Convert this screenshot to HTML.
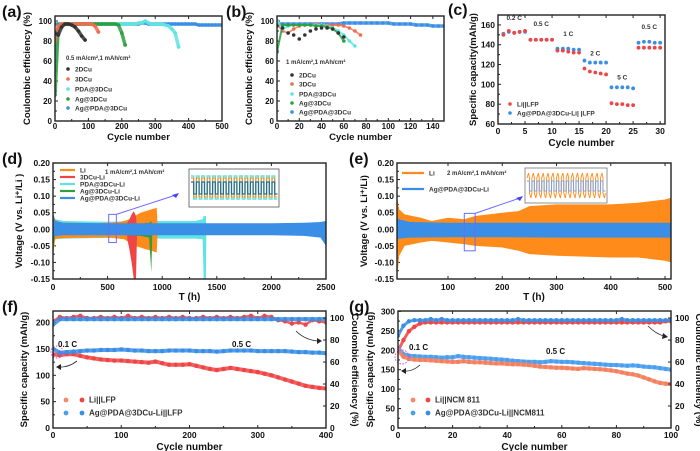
<!DOCTYPE html>
<html><head><meta charset="utf-8">
<style>
html,body{margin:0;padding:0;background:#fff;}
svg{display:block;font-family:"Liberation Sans",sans-serif;font-weight:bold;}
</style></head>
<body>
<svg id="fig" width="700" height="451" viewBox="0 0 700 451" xmlns="http://www.w3.org/2000/svg"></svg>
<script>
// ---------- data ----------
// (a) Coulombic efficiency, 0.5 mA/cm2; cycles step 10
const aStep = 10;
const a2DCu = [88,86,94,97,97,96,94,90,85,81];
const a3DCu = [80,95,97,97,97,97,97,97,97,97,97,97,95,89];
const aPDA = [52,96,97,97,97,97,97,97,97,97,97,97,97,97,97,97,97,97,97,97,97,97,97,97,97,98,98,100,98,97,97,97,97,96,95,92,88,74];
const aAg3D = [26,96,97,97,97,97,97,97,97,97,97,97,97,97,97,97,97,97,97,96,88,76];
const aAgPDA = [97,97,97,97,97,97,97,97,97,97,97,97,97,97,97,97,97,97,97,97,97,97,97,97,97,97,98,98,97,97,97,97,97,97,97,97,97,97,97,97,97,97,97,96,96,96,96,96,96,96,96];
// (b) 1 mA/cm2; cycles step 5
const bStep = 5;
const b2DCu = [95,93,88,86,82,86,90,92,93,93,92,88,84];
const b3DCu = [97,90,88,92,95,96,96,97,96,96,96,96,95,93,90,86];
const bPDA = [101,92,95,96,96,96,96,96,96,95,93,90,86,80,75];
const bAg3D = [69,96,96,96,96,96,96,95,95,94,92,88,80];
const bAgPDA = [97,97,97,97,97,97,97,97,97,97,97,97,98,98,98,98,98,98,98,98,98,97,97,97,97,96,96,96,95,95,95];
// (c) rate capability
const cCycles = [1,2,3,4,5,6,7,8,9,10,11,12,13,14,15,16,17,18,19,20,21,22,23,24,25,26,27,28,29,30];
const cLi = [150,154,152,153,154,145,145,145,145,145,134,134,133,132,132,116,113,112,111,110,81,80,80,79,79,137,137,137,137,137];
const cAg = [151,153,152,153,153,145,145,145,145,145,136,136,136,135,135,124,122,122,122,122,97,97,97,97,96,142,143,143,142,142];
const cRateLabels = ["0.2 C","0.5 C","1 C","2 C","5 C","0.5 C"];
const cRateX = [3,8,13,18,23,28];
const cRateY = [165,159,149,129,105,156];
// (d) voltage envelopes
const dLiT = [0,20,50,100,200,300,400,500,600,650,700,750,800,850,900,950,960];
const dLiUp = [0.04,0.03,0.022,0.02,0.02,0.018,0.018,0.02,0.022,0.025,0.03,0.04,0.05,0.055,0.06,0.065,0.0];
const dLiLo = [-0.08,-0.03,-0.027,-0.027,-0.026,-0.026,-0.025,-0.025,-0.028,-0.03,-0.04,-0.05,-0.055,-0.06,-0.065,-0.07,0];
const dCuT = [680,700,720,740,760,770];
const dCuUp = [0.02,0.03,0.045,0.055,0.04,0];
const dCuLo = [-0.03,-0.06,-0.1,-0.15,-0.15,0];
const dPdaT = [0,20,100,500,1000,1300,1370,1380,1400,1405];
const dPdaUp = [0.05,0.03,0.025,0.023,0.025,0.025,0.03,0.04,0.04,0];
const dPdaLo = [-0.08,-0.03,-0.028,-0.026,-0.028,-0.028,-0.03,-0.15,-0.15,0];
const dAgT = [0,20,100,500,800,880,900,910];
const dAgUp = [0.045,0.02,0.016,0.016,0.017,0.02,0.025,0];
const dAgLo = [-0.05,-0.02,-0.016,-0.016,-0.02,-0.025,-0.13,0];
const dAgPdaT = [0,20,100,500,1000,1500,2000,2300,2450,2500];
const dAgPdaUp = [0.05,0.025,0.02,0.018,0.018,0.018,0.018,0.02,0.022,0.025];
const dAgPdaLo = [-0.03,-0.02,-0.018,-0.018,-0.018,-0.018,-0.018,-0.02,-0.025,-0.05];
// (e)
const eLiT = [6,10,20,50,70,100,130,150,200,230,250,300,400,450,500,511];
const eLiUp = [0.10,0.06,0.045,0.035,0.025,0.035,0.03,0.04,0.05,0.055,0.07,0.075,0.075,0.08,0.09,0.095];
const eLiLo = [-0.15,-0.08,-0.05,-0.04,-0.035,-0.04,-0.045,-0.05,-0.055,-0.065,-0.075,-0.08,-0.085,-0.085,-0.095,-0.10];
const eAgT = [6,10,30,100,200,300,400,500,511];
const eAgUp = [0.035,0.03,0.022,0.02,0.02,0.02,0.02,0.02,0.02];
const eAgLo = [-0.03,-0.028,-0.025,-0.024,-0.024,-0.025,-0.025,-0.025,-0.025];
// (f) Li||LFP long cycling; cycles step 10
const fStep = 10;
const fLiCap = [140,138,140,140,137,134,132,130,129,128,128,127,126,125,124,126,123,120,120,120,121,118,115,112,110,112,114,112,110,108,106,103,100,96,92,88,84,80,78,76,75];
const fAgCap = [150,143,144,145,146,147,147,148,148,148,149,148,147,147,146,146,146,147,147,147,147,146,146,146,145,146,147,147,147,147,146,146,146,146,146,145,144,144,143,143,142];
const fLiCE = [97,101,100,101,102,100,100,101,100,101,100,102,100,101,100,101,100,101,100,101,100,100,101,100,101,100,101,100,101,102,100,102,101,98,97,95,96,94,98,97,96];
const fAgCE = [94,99,99,99,99,99,99,99,99,99,99,99,99,99,99,99,99,99,99,99,99,99,99,99,99,99,99,99,99,99,99,99,99,99,99,99,99,99,99,99,99];
// (g) Li||NCM811; cycles step 2
const gStep = 2;
const gLiCap = [200,183,178,176,175,175,174,173,172,171,170,170,172,170,169,169,168,167,166,166,165,164,164,163,162,160,158,157,156,155,155,154,153,152,154,153,152,151,150,148,146,143,140,138,135,130,125,120,116,114,113];
const gAgCap = [205,190,186,185,184,183,183,182,181,182,182,185,183,182,181,180,179,178,177,176,175,173,172,171,170,170,169,170,172,171,170,170,169,168,167,166,165,164,163,162,162,161,160,161,160,158,157,156,154,152,150];
const gLiCE = [70,80,88,92,95,96,96,96,96,96,96,96,96,96,96,96,96,96,96,96,96,96,96,96,96,96,96,96,96,96,96,96,96,96,96,96,96,96,96,96,96,96,96,96,96,96,96,96,96,97,97];
const gAgCE = [84,93,97,98,98,98,99,98,99,98,98,98,98,98,98,98,98,98,98,98,98,98,99,98,98,98,98,98,98,98,98,98,98,98,98,98,98,98,98,98,98,99,98,98,98,98,98,98,98,98,98];

// ---------- helpers ----------
const NS = 'http://www.w3.org/2000/svg';
const svg = document.getElementById('fig');
function mk(tag, attrs, parent){
  const e = document.createElementNS(NS, tag);
  for (const k in attrs) e.setAttribute(k, attrs[k]);
  (parent || svg).appendChild(e);
  return e;
}
function txt(s, x, y, size, parent, anchor, extra){
  const t = mk('text', Object.assign({x:x, y:y, 'font-size':size, 'text-anchor':anchor||'start', fill:'#111'}, extra||{}), parent);
  t.textContent = s;
  
  return t;
}
function scale(d0,d1,p0,p1){ return v => p0 + (v-d0)/(d1-d0)*(p1-p0); }

function axes(name, box, xd, yd, xticks, yticks, xfmt, yfmt, xlabY, xtitleY, xtitle, ytitle, ytitleX, labSize, titleSize){
  labSize = labSize || 8.5; titleSize = titleSize || 10;
  const g = mk('g', {});
  
  
  const sx = scale(xd[0], xd[1], box[0], box[2]);
  const sy = scale(yd[0], yd[1], box[3], box[1]);
  const ax = mk('g', {}, g);
  
  
  xticks.forEach((v,i) => {
    const x = sx(v);
    mk('line', {x1:x, x2:x, y1:box[3], y2:box[3]-3, stroke:'#222', 'stroke-width':1}, ax);
    mk('line', {x1:x, x2:x, y1:box[1], y2:box[1]+3, stroke:'#222', 'stroke-width':1}, ax);
    if (i < xticks.length-1) {
      const xm = sx((v + xticks[i+1])/2);
      mk('line', {x1:xm, x2:xm, y1:box[3], y2:box[3]-2, stroke:'#222', 'stroke-width':1}, ax);
    }
    const t = txt(xfmt(v), x, xlabY, labSize, ax, 'middle');
    
  });
  const ayg = mk('g', {}, g);
  
  
  yticks.forEach((v,i) => {
    const y = sy(v);
    mk('line', {x1:box[0], x2:box[0]+3, y1:y, y2:y, stroke:'#222', 'stroke-width':1}, ayg);
    if (i < yticks.length-1) {
      const ym = sy((v + yticks[i+1])/2);
      mk('line', {x1:box[0], x2:box[0]+2, y1:ym, y2:ym, stroke:'#222', 'stroke-width':1}, ayg);
    }
    const t = txt(yfmt(v), box[0]-3, y+3, labSize, ayg, 'end');
    
  });
  const xt = txt(xtitle, (box[0]+box[2])/2, xtitleY, titleSize, g, 'middle');
  
  const cy = (box[1]+box[3])/2;
  const yt = txt(ytitle, ytitleX, cy, 9.5, g, 'middle', {transform:'rotate(-90 '+ytitleX+' '+cy+')'});
  
  return {g, sx, sy, box};
}
function frame(p){
  const r = mk('rect', {x:p.box[0], y:p.box[1], width:p.box[2]-p.box[0], height:p.box[3]-p.box[1], fill:'none', stroke:'#222', 'stroke-width':1.4}, p.g);
  
  
}
function clipFor(p, id){
  const cp = mk('clipPath', {id:id}, p.g);
  mk('rect', {x:p.box[0], y:p.box[1], width:p.box[2]-p.box[0], height:p.box[3]-p.box[1]}, cp);
  const g = mk('g', {'clip-path':'url(#'+id+')'}, p.g);
  return g;
}
function dotSeries(parent, name, vals, step, sx, sy, color, r, lw){
  const g = mk('g', {}, parent);
  
  
  if (lw > 0) {
    const pts = vals.map((v,i) => sx(i*step).toFixed(1) + ',' + sy(v).toFixed(1)).join(' ');
    mk('polyline', {points:pts, fill:'none', stroke:color, 'stroke-width':lw, 'stroke-linejoin':'round', 'stroke-linecap':'round', opacity:0.85}, g);
  }
  vals.forEach((v,i) => {
    const c = mk('circle', {cx:sx(i*step), cy:sy(v), r:r, fill:color}, g);
    
    
  });
}
function band(parent, name, T, up, lo, sx, sy, color){
  const ptsU = T.map((t,i) => sx(t).toFixed(1)+','+sy(up[i]).toFixed(1));
  const ptsL = T.map((t,i) => sx(t).toFixed(1)+','+sy(lo[i]).toFixed(1)).reverse();
  const p = mk('polygon', {points: ptsU.concat(ptsL).join(' '), fill:color}, parent);
  
  
}
function panelLabel(s, x, y){
  const t = txt(s, x, y, 16, svg, 'start');
  
}
function legendDot(parent, x, y, color, label, size, r){
  const g = mk('g', {}, parent);
  
  
  mk('circle', {cx:x, cy:y, r:r||1.8, fill:color}, g);
  txt(label, x+7, y+2.3, size||6.5, g, 'start', {fill:'#333'});
}
function legendLine(parent, x, y, color, label, len, size){
  const g = mk('g', {}, parent);
  
  
  mk('line', {x1:x, x2:x+len, y1:y, y2:y, stroke:color, 'stroke-width':2.2}, g);
  txt(label, x+len+5, y+2.3, size||6.5, g, 'start', {fill:'#333'});
}
const fmt0 = v => String(v);
const fmt2 = v => v.toFixed(2);
const C = {dark:'#333333', red:'#f26b4a', cyan:'#5fe3e3', green:'#2e9e3e', blue:'#3a8ee6', orange:'#ff8c1a', lred:'#ef4545'};

// ---------- (a) ----------
panelLabel('(a)', 2, 17);
const pa = axes('panel-a', [55,16,222,121], [0,500], [0,105], [0,100,200,300,400,500], [0,20,40,60,80,100], fmt0, fmt0, 129, 140, 'Cycle number', 'Coulombic efficiency (%)', 30, 8, 9.5);
{
  const g = clipFor(pa, 'ca');
  dotSeries(g, 'series-ag-pda-3dcu', aAgPDA, aStep, pa.sx, pa.sy, C.blue, 1.8, 3.5);
  dotSeries(g, 'series-pda-3dcu', aPDA, aStep, pa.sx, pa.sy, C.cyan, 1.8, 3.5);
  dotSeries(g, 'series-ag-3dcu', aAg3D, aStep, pa.sx, pa.sy, C.green, 1.8, 3.5);
  dotSeries(g, 'series-3dcu', a3DCu, aStep, pa.sx, pa.sy, C.red, 1.8, 3.5);
  dotSeries(g, 'series-2dcu', a2DCu, aStep, pa.sx, pa.sy, C.dark, 1.8, 3.5);
  const n = txt('0.5 mA/cm²,1 mAh/cm²', 66, 60, 6, pa.g, 'start', {fill:'#333'});
  
  legendDot(pa.g, 68, 69, C.dark, '2DCu');
  legendDot(pa.g, 68, 79, C.red, '3DCu');
  legendDot(pa.g, 68, 89, C.cyan, 'PDA@3DCu');
  legendDot(pa.g, 68, 99, C.green, 'Ag@3DCu');
  legendDot(pa.g, 68, 108, C.blue, 'Ag@PDA@3DCu');
  frame(pa);
}
// ---------- (b) ----------
panelLabel('(b)', 226, 17);
const pb = axes('panel-b', [277,16,444,121], [0,150], [0,105], [0,20,40,60,80,100,120,140], [0,20,40,60,80,100], fmt0, fmt0, 129, 140, 'Cycle number', 'Coulombic efficiency (%)', 252, 8, 9.5);
{
  const g = clipFor(pb, 'cb');
  dotSeries(g, 'series-ag-pda-3dcu', bAgPDA, bStep, pb.sx, pb.sy, C.blue, 1.8, 3.5);
  dotSeries(g, 'series-3dcu', b3DCu, bStep, pb.sx, pb.sy, C.red, 1.8, 1.5);
  dotSeries(g, 'series-pda-3dcu', bPDA, bStep, pb.sx, pb.sy, C.cyan, 1.8, 2);
  dotSeries(g, 'series-ag-3dcu', bAg3D, bStep, pb.sx, pb.sy, C.green, 1.8, 2);
  dotSeries(g, 'series-2dcu', b2DCu, bStep, pb.sx, pb.sy, C.dark, 1.8, 0);
  const n = txt('1 mA/cm²,1 mAh/cm²', 286, 64, 6, pb.g, 'start', {fill:'#333'});
  
  legendDot(pb.g, 292, 75, C.dark, '2DCu');
  legendDot(pb.g, 292, 84, C.red, '3DCu');
  legendDot(pb.g, 292, 94, C.cyan, 'PDA@3DCu');
  legendDot(pb.g, 292, 103, C.green, 'Ag@3DCu');
  legendDot(pb.g, 292, 112, C.blue, 'Ag@PDA@3DCu');
  frame(pb);
}
// ---------- (c) ----------
panelLabel('(c)', 448, 15);
const pc = axes('panel-c', [498,15,665,124], [0,30.9], [60,170], [0,5,10,15,20,25,30], [60,80,100,120,140,160], fmt0, fmt0, 134, 146, 'Cycle number', 'Specific capacity(mAh/g)', 476);
{
  const gA = mk('g', {}, pc.g);
  
  
  cCycles.forEach((c,i) => {
    const d = mk('circle', {cx:pc.sx(c), cy:pc.sy(cAg[i]), r:1.9, fill:C.blue}, gA);
    
    
  });
  const gL = mk('g', {}, pc.g);
  
  
  cCycles.forEach((c,i) => {
    const d = mk('circle', {cx:pc.sx(c), cy:pc.sy(cLi[i]), r:1.9, fill:C.lred}, gL);
    
    
  });
  cRateLabels.forEach((s,i) => {
    const t = txt(s, pc.sx(cRateX[i]), pc.sy(cRateY[i]), 6.5, pc.g, 'middle', {fill:'#333'});
    
  });
  legendDot(pc.g, 510, 104, C.lred, 'Li||LFP');
  legendDot(pc.g, 510, 113, C.blue, 'Ag@PDA@3DCu-Li| |LFP');
  frame(pc);
}
// ---------- (d) ----------
panelLabel('(d)', 2, 164);
const pd = axes('panel-d', [53,163,326,279], [0,2500], [-0.15,0.20], [0,500,1000,1500,2000,2500], [-0.15,-0.10,-0.05,0,0.05,0.10,0.15,0.20], fmt0, fmt2, 290, 300, 'T (h)', 'Voltage (V vs. Li⁺/Li )', 22);
{
  const g = clipFor(pd, 'cd');
  band(g, 'band-pda-3dcu-li', dPdaT, dPdaUp, dPdaLo, pd.sx, pd.sy, C.cyan);
  band(g, 'band-li', dLiT, dLiUp, dLiLo, pd.sx, pd.sy, C.orange);
  band(g, 'band-3dcu-li', dCuT, dCuUp, dCuLo, pd.sx, pd.sy, C.lred);
  band(g, 'band-ag-3dcu-li', dAgT, dAgUp, dAgLo, pd.sx, pd.sy, C.green);
  band(g, 'band-ag-pda-3dcu-li', dAgPdaT, dAgPdaUp, dAgPdaLo, pd.sx, pd.sy, C.blue);
  const z = mk('rect', {x:pd.sx(510), y:pd.sy(0.045), width:pd.sx(580)-pd.sx(510), height:pd.sy(-0.04)-pd.sy(0.045), fill:'none', stroke:'#6b6bff', 'stroke-width':1}, pd.g);
  
  
  mk('line', {x1:pd.sx(580), y1:pd.sy(0.045), x2:176, y2:195, stroke:'#6b6bff', 'stroke-width':1}, pd.g);
  mk('polygon', {points:'179,193 172,195 176,198', fill:'#4040ff'}, pd.g);
  const ins = mk('g', {}, pd.g);
  
  
  mk('rect', {x:189, y:169, width:90, height:38, fill:'#fff', stroke:'#555', 'stroke-width':0.8}, ins);
  let pC='', pO='', pB='';
  for (let i=0;i<16;i++){
    const x0 = 191 + i*5.4, x1 = x0+2.7, x2 = x0+5.4;
    pC += `${x0},176 ${x1},176 ${x1},199 ${x2},199 `;
    pO += `${x0},178 ${x1},178 ${x1},197 ${x2},197 `;
    pB += `${x0},182 ${x1},182 ${x1},194 ${x2},194 `;
  }
  mk('polyline', {points:pC, fill:'none', stroke:C.cyan, 'stroke-width':1.4}, ins);
  mk('polyline', {points:pO, fill:'none', stroke:C.orange, 'stroke-width':1}, ins);
  mk('polyline', {points:pB, fill:'none', stroke:'#2a6a8a', 'stroke-width':1.2}, ins);
  legendLine(pd.g, 60, 170, C.orange, 'Li', 15);
  legendLine(pd.g, 60, 177, C.lred, '3DCu-Li', 15);
  legendLine(pd.g, 60, 184, C.cyan, 'PDA@3DCu-Li', 15);
  legendLine(pd.g, 60, 191, C.green, 'Ag@3DCu-Li', 15);
  legendLine(pd.g, 60, 198, C.blue, 'Ag@PDA@3DCu-Li', 15);
  const n = txt('1 mA/cm²,1 mAh/cm²', 105, 174, 6, pd.g, 'start', {fill:'#333'});
  
  frame(pd);
}
// ---------- (e) ----------
panelLabel('(e)', 349, 164);
const pe = axes('panel-e', [397,163,671,279], [6,511], [-0.15,0.20], [100,200,300,400,500], [-0.15,-0.10,-0.05,0,0.05,0.10,0.15,0.20], fmt0, fmt2, 290, 300, 'T (h)', 'Voltage (V vs. Li⁺/Li)', 367);
{
  const g = clipFor(pe, 'ce');
  band(g, 'band-li', eLiT, eLiUp, eLiLo, pe.sx, pe.sy, C.orange);
  band(g, 'band-ag-pda-3dcu-li', eAgT, eAgUp, eAgLo, pe.sx, pe.sy, C.blue);
  const z = mk('rect', {x:pe.sx(130), y:pe.sy(0.048), width:pe.sx(150)-pe.sx(130), height:pe.sy(-0.065)-pe.sy(0.048), fill:'none', stroke:'#6b6bff', 'stroke-width':1}, pe.g);
  
  
  mk('line', {x1:pe.sx(150), y1:pe.sy(0.048), x2:520, y2:198, stroke:'#6b6bff', 'stroke-width':1}, pe.g);
  mk('polygon', {points:'523,196 516,198 520,201', fill:'#4040ff'}, pe.g);
  const ins = mk('g', {}, pe.g);
  
  
  mk('rect', {x:525, y:168, width:82, height:35, fill:'#fff', stroke:'#777', 'stroke-width':0.8}, ins);
  let pO='', pB='';
  for (let i=0;i<16;i++){
    const x0 = 527 + i*4.9, x1 = x0+2.45, x2 = x0+4.9;
    pO += `${x0},178 ${x0+1.5},173 ${x1},178 ${x1},193 ${x1+1.5},198 ${x2},193 `;
    pB += `${x0},181 ${x1},181 ${x1},191 ${x2},191 `;
  }
  mk('polyline', {points:pO, fill:'none', stroke:C.orange, 'stroke-width':0.9}, ins);
  mk('polyline', {points:pB, fill:'none', stroke:'#8aa0c8', 'stroke-width':1.1}, ins);
  legendLine(pe.g, 402, 173, C.orange, 'Li', 22);
  legendLine(pe.g, 402, 189, C.blue, 'Ag@PDA@3DCu-Li', 22);
  const n = txt('2 mA/cm²,1 mAh/cm²', 447, 175, 6, pe.g, 'start', {fill:'#333'});
  
  frame(pe);
}
// ---------- (f) ----------
panelLabel('(f)', 2, 312);
const pf = axes('panel-f', [53,311,326,428], [0,400], [0,222], [0,100,200,300,400], [0,50,100,150,200], fmt0, fmt0, 438, 450, 'Cycle number', 'Specific capacity (mAh/g)', 27);
{
  const syR = scale(0, 106.4, 428, 311);
  const g = clipFor(pf, 'cf');
  dotSeries(g, 'series-li-lfp-ce', fLiCE, fStep, pf.sx, syR, C.lred, 2.2, 2.5);
  dotSeries(g, 'series-ag-lfp-ce', fAgCE, fStep, pf.sx, syR, C.blue, 2.2, 4);
  dotSeries(g, 'series-li-lfp-capacity', fLiCap, fStep, pf.sx, pf.sy, C.lred, 2.2, 4);
  dotSeries(g, 'series-ag-lfp-capacity', fAgCap, fStep, pf.sx, pf.sy, C.blue, 2.2, 4);
  const ry = mk('g', {}, pf.g);
  
  
  [0,20,40,60,80,100].forEach(v => {
    mk('line', {x1:326, x2:323, y1:syR(v), y2:syR(v), stroke:'#222'}, ry);
    const t = txt(String(v), 330, syR(v)+3, 8.5, ry, 'start');
    
  });
  const rt = txt('Coulombic efficiency (%)', 352, 370, 9.5, ry, 'middle', {transform:'rotate(90 352 370)'});
  
  mk('circle', {cx:57, cy:352, r:6, fill:'none', stroke:'#e040e0', 'stroke-width':1, 'stroke-dasharray':'1.5 1.5'}, pf.g);
  mk('path', {d:'M77,361 Q68,368 58,367', fill:'none', stroke:'#222', 'stroke-width':0.8}, pf.g);
  mk('polygon', {points:'56,367 61,364 61,370', fill:'#222'}, pf.g);
  mk('path', {d:'M296,331 Q305,340 318,341', fill:'none', stroke:'#222', 'stroke-width':0.8}, pf.g);
  mk('polygon', {points:'322,341 317,338 317,344', fill:'#222'}, pf.g);
  const l1 = txt('0.1 C', 58, 347, 8, pf.g, 'start');
  
  const l2 = txt('0.5 C', 232, 347, 8, pf.g, 'start');
  
  legendDot(pf.g, 66, 400, '#f58a6a', '', 8, 2.4);
  legendDot(pf.g, 82, 400, C.lred, 'Li||LFP', 8, 2.4);
  legendDot(pf.g, 66, 413, '#4a9ff0', '', 8, 2.4);
  legendDot(pf.g, 82, 413, C.blue, 'Ag@PDA@3DCu-Li||LFP', 8, 2.4);
  frame(pf);
}
// ---------- (g) ----------
panelLabel('(g)', 349, 312);
const pg = axes('panel-g', [398,311,671,428], [0,100], [0,301], [0,20,40,60,80,100], [0,50,100,150,200,250,300], fmt0, fmt0, 438, 450, 'Cycle number', 'Specific capacity (mAh/g)', 373);
{
  const syR = scale(0, 106.4, 428, 311);
  const g = clipFor(pg, 'cg');
  dotSeries(g, 'series-li-ncm-ce', gLiCE, gStep, pg.sx, syR, C.lred, 2.2, 3);
  dotSeries(g, 'series-ag-ncm-ce', gAgCE, gStep, pg.sx, syR, C.blue, 2.2, 3);
  dotSeries(g, 'series-ag-ncm-capacity', gAgCap, gStep, pg.sx, pg.sy, '#4a9ff0', 2.2, 4);
  dotSeries(g, 'series-li-ncm-capacity', gLiCap, gStep, pg.sx, pg.sy, '#f5805e', 2.2, 4);
  const ry = mk('g', {}, pg.g);
  
  
  [0,20,40,60,80,100].forEach(v => {
    mk('line', {x1:671, x2:668, y1:syR(v), y2:syR(v), stroke:'#222'}, ry);
    const t = txt(String(v), 675, syR(v)+3, 8.5, ry, 'start');
    
  });
  const rt = txt('Coulombic efficiency (%)', 696, 370, 9.5, ry, 'middle', {transform:'rotate(90 696 370)'});
  
  mk('circle', {cx:402, cy:357, r:7, fill:'none', stroke:'#e040e0', 'stroke-width':1, 'stroke-dasharray':'1.5 1.5'}, pg.g);
  mk('path', {d:'M420,365 Q412,372 404,371', fill:'none', stroke:'#222', 'stroke-width':0.8}, pg.g);
  mk('polygon', {points:'401,371 406,368 406,374', fill:'#222'}, pg.g);
  mk('path', {d:'M648,326 Q656,334 664,336', fill:'none', stroke:'#222', 'stroke-width':0.8}, pg.g);
  mk('polygon', {points:'668,337 663,333 662,339', fill:'#222'}, pg.g);
  const l1 = txt('0.1 C', 409, 350, 8, pg.g, 'start');
  
  const l2 = txt('0.5 C', 546, 354, 8, pg.g, 'start');
  
  legendDot(pg.g, 413, 400, '#f58a6a', '', 8, 2.4);
  legendDot(pg.g, 428, 400, C.lred, 'Li||NCM 811', 8, 2.4);
  legendDot(pg.g, 413, 413, '#4a9ff0', '', 8, 2.4);
  legendDot(pg.g, 428, 413, C.blue, 'Ag@PDA@3DCu-Li||NCM811', 8, 2.4);
  frame(pg);
}
</script>
</body></html>
